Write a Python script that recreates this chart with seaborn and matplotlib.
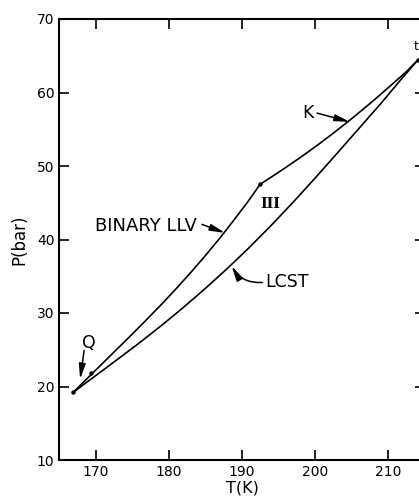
import matplotlib
matplotlib.use("Agg")
import matplotlib.pyplot as plt
import seaborn as sns

# curve points (T in K, P in bar)
llv_t = [166.9, 169.0, 171.0, 173.0, 175.0, 177.0, 179.0, 181.0, 183.0, 185.0, 187.0, 189.0,
         190.8, 192.5, 194.5, 196.5, 198.5, 200.5, 202.5, 204.5, 206.5, 208.5, 210.5,
         212.5, 214.1]
llv_p = [19.2, 21.26, 23.22, 25.18, 27.14, 29.14, 31.18, 33.3, 35.5, 37.8, 40.2, 42.75,
         45.1, 47.5, 48.8, 50.12, 51.5, 52.94, 54.44, 56.0, 57.62, 59.3, 61.04,
         62.8, 64.4]

lcst_t = [166.9, 170.0, 173.0, 176.0, 179.0, 182.0, 185.0, 188.0, 191.0, 194.0, 197.0,
          200.0, 203.0, 206.0, 209.0, 212.0, 214.1]
lcst_p = [19.2, 21.49, 23.71, 25.96, 28.3, 30.76, 33.34, 36.04, 38.89, 41.89, 45.04,
          48.31, 51.67, 55.06, 58.45, 62.0, 64.4]

# marked points: Q, small mark, kink, t
dot_t = [166.9, 169.3, 192.5, 214.1]
dot_p = [19.2, 21.9, 47.5, 64.4]

x_ticks = [170, 180, 190, 200, 210]
y_ticks = [10, 20, 30, 40, 50, 60, 70]

sns.set_style("ticks")
plt.rcParams['font.family'] = ['DejaVu Sans']
plt.rcParams['text.color'] = 'black'
plt.rcParams['axes.labelcolor'] = 'black'

fig = plt.figure(figsize=(4.19, 5), dpi=100)
ax = fig.add_axes([0.1415, 0.08, 0.8726, 0.882])

sns.lineplot(x=llv_t, y=llv_p, ax=ax, color='black', lw=1.2, sort=False, estimator=None)
sns.lineplot(x=lcst_t, y=lcst_p, ax=ax, color='black', lw=1.2, sort=False, estimator=None)
sns.scatterplot(x=dot_t, y=dot_p, ax=ax, color='black', s=10, linewidth=0, zorder=5)

ax.set_xlim(165.0, 215.08)
ax.set_ylim(10, 70)
ax.set_xticks(x_ticks)
ax.set_yticks(y_ticks)
ax.tick_params(direction='in', length=7, width=1.2, top=True, right=True,
               labelsize=10, colors='black')
for s in ax.spines.values():
    s.set_linewidth(1.5)
    s.set_color('black')

ax.set_xlabel('T(K)', fontsize=11.5, labelpad=1)
ax.set_ylabel('P(bar)', fontsize=12, labelpad=6)

arrow = dict(arrowstyle='-|>,head_length=0.9,head_width=0.2', color='black',
             lw=1.1, shrinkA=0, shrinkB=0)

ax.text(183.9, 41.9, 'BINARY LLV', fontsize=13, ha='right', va='center')
ax.annotate('', xy=(187.7, 40.9), xytext=(184.55, 42.05), arrowprops=arrow)

ax.text(193.2, 34.2, 'LCST', fontsize=12.5, ha='left', va='center')
ax.annotate('', xy=(188.6, 36.4), xytext=(192.8, 34.15),
            arrowprops=dict(arrow, connectionstyle='arc3,rad=-0.3'))

ax.text(199.1, 57.2, 'K', fontsize=12.5, ha='center', va='center')
ax.annotate('', xy=(204.8, 56.0), xytext=(200.3, 57.2), arrowprops=arrow)

ax.text(169.0, 25.9, 'Q', fontsize=12.5, ha='center', va='center')
ax.annotate('', xy=(167.85, 21.0), xytext=(168.4, 24.9), arrowprops=arrow)

ax.text(213.9, 66.3, 't', fontsize=9, ha='center', va='center')
ax.text(193.9, 44.8, 'III', fontsize=10, fontweight='bold', family='DejaVu Serif',
        ha='center', va='center')

fig.savefig('out.png', dpi=100)
